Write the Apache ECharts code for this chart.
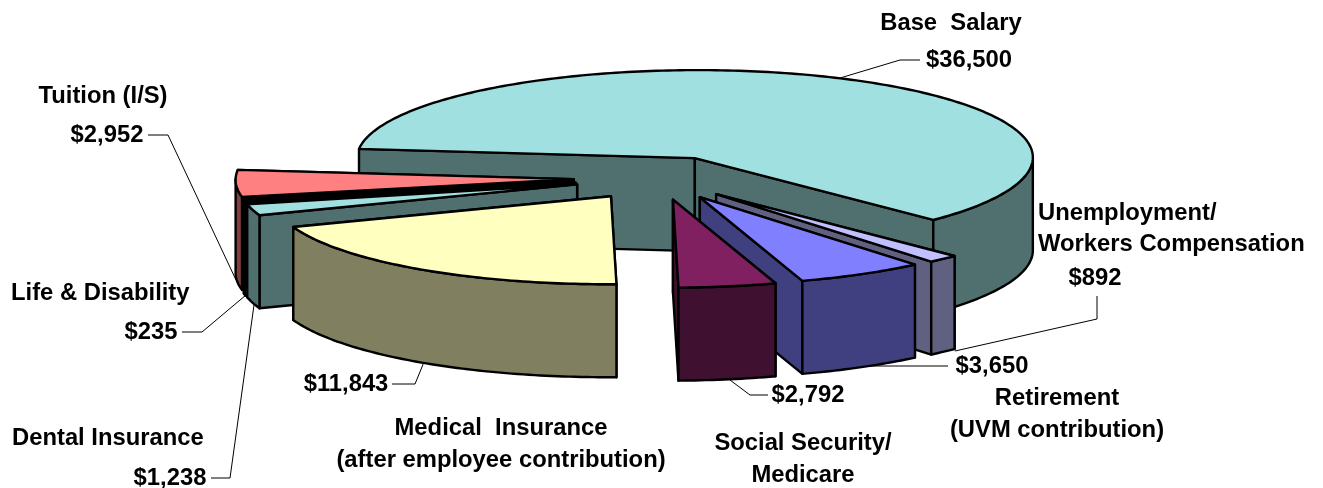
<!DOCTYPE html>
<html>
<head>
<meta charset="utf-8">
<title>Compensation</title>
<script src="https://cdn.jsdelivr.net/npm/echarts@6/dist/echarts.min.js"></script>
<style>
html, body { margin: 0; padding: 0; background: #fff; }
#container { width: 1323px; height: 488px; }
</style>
</head>
<body>
<div id="container"></div>
<script>
var sliceNames = ['Base Salary', 'Unemployment', 'Retirement', 'Social Security', 'Medical', 'Dental', 'Life', 'Tuition'];
var sliceValues = [36500, 892, 3650, 2792, 11843, 1238, 235, 2952];
var topColors = ['#A0E0E0', '#C0C0FF', '#8080FF', '#802060', '#FFFFC0', '#A0E0E0', '#000000', '#FF8080'];
var sideColors = ['#507070', '#606080', '#404080', '#401030', '#808060', '#507070', '#000000', '#804040'];
var cutColors = ['#507070', '#606080', '#404080', '#401030', '#808060', '#507070', '#000000', '#000000'];
var drawOrder = [0, 1, 2, 3, 7, 6, 5, 4];

// pie geometry
var startAngle = 276, rx = 338, ry = 88, depth = 93, skew = 3;
var centerX = 658.5, centerY = 178;
var explodeX = 85, explodeY = 22;

var total = sliceValues.reduce(function (a, b) { return a + b; }, 0);
var rad = Math.PI / 180;

function money(v) {
    return '$' + v.toString().replace(/\B(?=(\d{3})+$)/g, ',');
}

function sliceAngles(i) {
    var sum = 0;
    for (var k = 0; k < i; k++) {
        sum += sliceValues[k];
    }
    var a0 = startAngle + sum / total * 360;
    return [a0, a0 + sliceValues[i] / total * 360];
}

function rimPoint(tip, a) {
    return [tip[0] + rx * Math.sin(a * rad) + skew * Math.cos(a * rad), tip[1] - ry * Math.cos(a * rad)];
}

function down(p) {
    return [p[0], p[1] + depth];
}

function renderSlice(params, api) {
    var i = api.value(0);
    var ang = sliceAngles(i);
    var mid = (ang[0] + ang[1]) / 2;
    var tip = [centerX + explodeX * Math.sin(mid * rad), centerY - explodeY * Math.cos(mid * rad)];
    var lineStyle = {lineWidth: 2.4, stroke: '#000', lineJoin: 'round'};
    var top = [tip], a;
    for (a = ang[0]; a < ang[1]; a += 1) {
        top.push(rimPoint(tip, a));
    }
    top.push(rimPoint(tip, ang[1]));

    // the two cut faces, the one further back first
    var p0 = rimPoint(tip, ang[0]), p1 = rimPoint(tip, ang[1]);
    var cuts = p0[1] < p1[1] ? [p0, p1] : [p1, p0];
    var children = cuts.map(function (p) {
        return {
            type: 'polygon',
            shape: {points: [tip, p, down(p), down(tip)]},
            style: Object.assign({fill: cutColors[i]}, lineStyle)
        };
    });

    // outer wall, only where the rim faces the viewer
    var from = ang[0], to = ang[1], wall = [], back = [];
    for (var turn = 0; turn <= 360; turn += 360) {
        var lo = Math.max(from, 90 + turn), hi = Math.min(to, 270 + turn);
        if (lo < hi) {
            for (a = lo; a < hi; a += 1) {
                wall.push(rimPoint(tip, a));
            }
            wall.push(rimPoint(tip, hi));
        }
    }
    if (wall.length) {
        back = wall.map(down).reverse();
        children.push({
            type: 'polygon',
            shape: {points: wall.concat(back)},
            style: Object.assign({fill: sideColors[i]}, lineStyle)
        });
    }
    children.push({
        type: 'polygon',
        shape: {points: top},
        style: Object.assign({fill: topColors[i]}, lineStyle)
    });
    return {type: 'group', children: children};
}

// label text and where it sits
var labelFont = 'bold 23.8px "Liberation Sans", Arial, sans-serif';
var textLabels = [
    ['Base  Salary', 951, 23, 'center'],
    [money(sliceValues[0]), 969, 60, 'center'],
    ['Unemployment/', 1038, 213, 'left'],
    ['Workers Compensation', 1038, 244, 'left'],
    [money(sliceValues[1]), 1095, 278, 'center'],
    [money(sliceValues[2]), 992, 366, 'center'],
    ['Retirement', 1057, 398, 'center'],
    ['(UVM contribution)', 1057, 430, 'center'],
    [money(sliceValues[3]), 808, 395, 'center'],
    ['Social Security/', 803, 443, 'center'],
    ['Medicare', 803, 475, 'center'],
    ['Medical  Insurance', 501, 428, 'center'],
    ['(after employee contribution)', 501, 460, 'center'],
    [money(sliceValues[4]), 346, 384, 'center'],
    ['Dental Insurance', 12, 438, 'left'],
    [money(sliceValues[5]), 170, 478, 'center'],
    ['Life & Disability', 11, 293, 'left'],
    [money(sliceValues[6]), 151, 332, 'center'],
    ['Tuition (I/S)', 103, 96, 'center'],
    [money(sliceValues[7]), 107, 135, 'center']
];
var leaderLines = [
    [[840, 78], [900, 60], [920, 60]],
    [[955, 351], [1097, 319], [1097, 296]],
    [[870, 366], [948, 366]],
    [[730, 380], [750, 395], [768, 395]],
    [[392, 384], [415, 384], [424, 362]],
    [[211, 478], [230, 478], [254, 305]],
    [[182, 332], [202, 332], [246, 295]],
    [[148, 135], [168, 135], [236, 280]]
];

var graphics = [];
leaderLines.forEach(function (pts) {
    graphics.push({
        type: 'polyline',
        shape: {points: pts},
        style: {stroke: '#000', lineWidth: 1, fill: null},
        z: 1
    });
});
textLabels.forEach(function (t) {
    graphics.push({
        type: 'text',
        x: t[1],
        y: t[2],
        style: {text: t[0], font: labelFont, fill: '#000', textAlign: t[3], textVerticalAlign: 'middle'},
        z: 10
    });
});

var myChart = echarts.init(document.getElementById('container'));
myChart.setOption({
    animation: false,
    backgroundColor: '#fff',
    graphic: graphics,
    series: [
        {
            type: 'custom',
            coordinateSystem: 'none',
            silent: true,
            z: 5,
            renderItem: renderSlice,
            data: drawOrder.map(function (i) {
                return {name: sliceNames[i], value: [i, sliceValues[i]]};
            })
        }
    ]
});
</script>
</body>
</html>
